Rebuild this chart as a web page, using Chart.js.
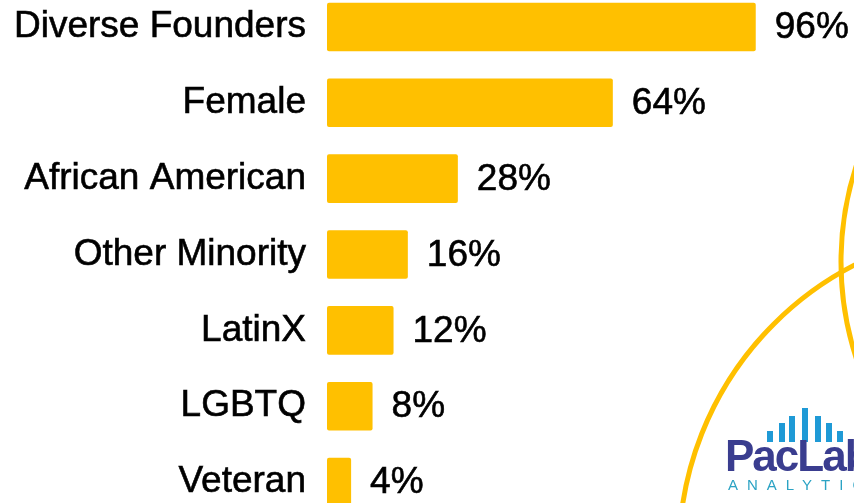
<!DOCTYPE html>
<html>
<head>
<meta charset="utf-8">
<script src="https://cdn.jsdelivr.net/npm/chart.js@4.4.1/dist/chart.umd.min.js"></script>
<style>
    html, body { margin: 0; padding: 0; background: #fff; overflow: hidden; }
    #page { position: relative; width: 854px; height: 503px; overflow: hidden; }
    #deco { position: absolute; left: 0; top: 0; }
    #FoundersChart { position: absolute; left: 0; top: -11px; }
    .logo { position: absolute; font-family: "Liberation Sans", Arial, sans-serif; }
    .lbar { position: absolute; background: #1f9ad6; width: 6px; }
</style>
</head>
<body>
<div id="page">
    <svg id="deco" width="854" height="503">
        <circle cx="1152" cy="262" r="311" fill="none" stroke="#ffc000" stroke-width="5"></circle>
        <circle cx="1003" cy="553" r="324" fill="none" stroke="#ffc000" stroke-width="5"></circle>
    </svg>
    <canvas id="FoundersChart" width="854" height="531"></canvas>
    <!-- logo -->
    <div class="lbar" style="left:767px; top:431px; height:11px;"></div>
    <div class="lbar" style="left:779px; top:423px; height:19px;"></div>
    <div class="lbar" style="left:789px; top:416px; height:26px;"></div>
    <div class="lbar" style="left:802px; top:408px; height:34px;"></div>
    <div class="lbar" style="left:815px; top:416px; height:26px;"></div>
    <div class="lbar" style="left:826px; top:423px; height:19px;"></div>
    <div class="lbar" style="left:837px; top:431px; height:11px;"></div>
    <div class="logo" style="left:725px; top:431px; font-size:44px; font-weight:bold; color:#3a3d8f; letter-spacing:-2px;">PacLab</div>
    <div class="logo" style="left:728px; top:476px; font-size:15px; color:#2ba3c4; letter-spacing:9px;">ANALYTICS</div>
</div>
<script>
var categorias = ['Diverse Founders', 'Female', 'African American', 'Other Minority', 'LatinX', 'LGBTQ', 'Veteran'];
var porcentajes = [96, 64, 29.3, 18.1, 14.9, 10.2, 5.4];
var etiquetas = ['96%', '64%', '28%', '16%', '12%', '8%', '4%'];

document.addEventListener('DOMContentLoaded', function () {
    var fuente = '"Liberation Sans", Arial, sans-serif';

    //Etiquetas de valor a la derecha de cada barra
    var etiquetasPlugin = {
        id: 'etiquetasValor',
        afterDatasetsDraw: function (chart) {
            var ctx = chart.ctx;
            var meta = chart.getDatasetMeta(0);
            ctx.save();
            ctx.font = '37px ' + fuente;
            ctx.fillStyle = '#000';
            ctx.strokeStyle = '#000';
            ctx.lineWidth = 0.6;
            ctx.textAlign = 'left';
            ctx.textBaseline = 'middle';
            meta.data.forEach(function (bar, i) {
                ctx.fillText(etiquetas[i], bar.x + 19, bar.y + 1);
                ctx.strokeText(etiquetas[i], bar.x + 19, bar.y + 1);
            });
            ctx.restore();
        }
    };

    var ctx = document.getElementById('FoundersChart').getContext('2d');

    var foundersChart = new Chart(ctx, {
        type: 'bar',
        data: {
            labels: categorias,
            datasets: [{
                data: porcentajes,
                backgroundColor: '#ffc000',
                borderRadius: 2,
                borderSkipped: false,
                barPercentage: 0.64,
                categoryPercentage: 1
            }]
        },
        options: {
            indexAxis: 'y',
            responsive: false,
            animation: false,
            layout: { padding: 0 },
            scales: {
                x: {
                    display: false,
                    min: 0,
                    max: 118
                },
                y: {
                    grid: { display: false, drawTicks: false },
                    border: { display: false },
                    ticks: {
                        color: '#000',
                        textStrokeColor: '#000',
                        textStrokeWidth: 0.6,
                        padding: 21,
                        autoSkip: false,
                        font: { family: fuente, size: 37 }
                    },
                    afterFit: function (scale) {
                        scale.width = 327;
                        scale.paddingTop = 0;
                        scale.paddingBottom = 0;
                    }
                }
            },
            plugins: {
                legend: { display: false },
                tooltip: { enabled: false }
            }
        },
        plugins: [etiquetasPlugin]
    });
});
</script>
</body>
</html>
